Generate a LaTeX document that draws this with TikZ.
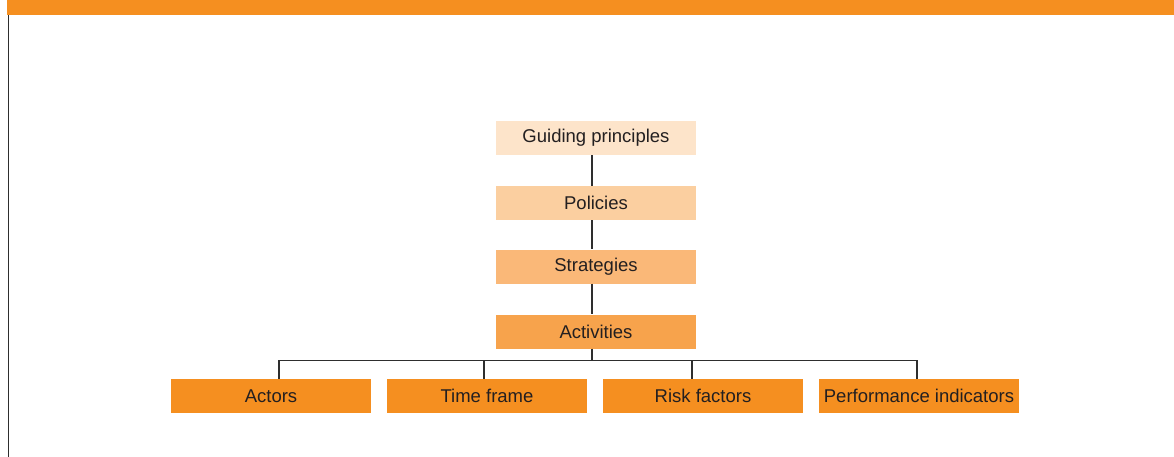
\documentclass[tikz,border=0pt]{standalone}
\usepackage{fontspec}
\setmainfont{Liberation Sans}
\definecolor{orA}{HTML}{F58F20}
\definecolor{orB}{HTML}{F7A34C}
\definecolor{orC}{HTML}{FAB878}
\definecolor{orD}{HTML}{FBCFA0}
\definecolor{orE}{HTML}{FDE4CA}
\definecolor{txt}{HTML}{231F20}
\definecolor{lin}{HTML}{2E2E2E}
\begin{document}
\begin{tikzpicture}[x=1pt,y=-1pt,
  box/.style={minimum width=200pt,minimum height=34pt,inner sep=0pt,text=txt,
    font=\fontsize{18.5}{21}\selectfont},
  conn/.style={draw=lin,line width=1.1pt}]
\useasboundingbox (0,0) rectangle (1174,457);
% banner and frame
\fill[orA] (7,0) rectangle (1174,15.5);
\draw[lin,line width=1.3pt] (8.5,15.5) -- (8.5,457);
% chain
\node[box,fill=orE] (gp) at (596,138) {Guiding principles};
\node[box,fill=orD] (pol) at (596,203) {Policies};
\node[box,fill=orC] (str) at (596,266.5) {Strategies};
\node[box,fill=orB] (act) at (596,331.5) {Activities};
% bottom row
\node[box,fill=orA] (a) at (271,396) {Actors};
\node[box,fill=orA] (t) at (487,396) {Time frame};
\node[box,fill=orA] (r) at (703,396) {Risk factors};
\node[box,fill=orA] (p) at (919,396) {Performance indicators};
% connectors
\draw[conn] ([xshift=-4pt]gp.south) -- ([xshift=-4pt]pol.north);
\draw[conn] ([xshift=-4pt]pol.south) -- ([xshift=-4pt]str.north);
\draw[conn] ([xshift=-4pt]str.south) -- ([xshift=-4pt]act.north);
\coordinate (bus) at (592,361);
\draw[conn] ([xshift=-4pt]act.south) -- (bus);
\draw[conn] ([xshift=8pt]a.north) -- ++(0,-18) -| ([xshift=-2pt]p.north);
\draw[conn] ([xshift=-3pt]t.north) -- ++(0,-18);
\draw[conn] ([xshift=-11pt]r.north) -- ++(0,-18);
\end{tikzpicture}
\end{document}
